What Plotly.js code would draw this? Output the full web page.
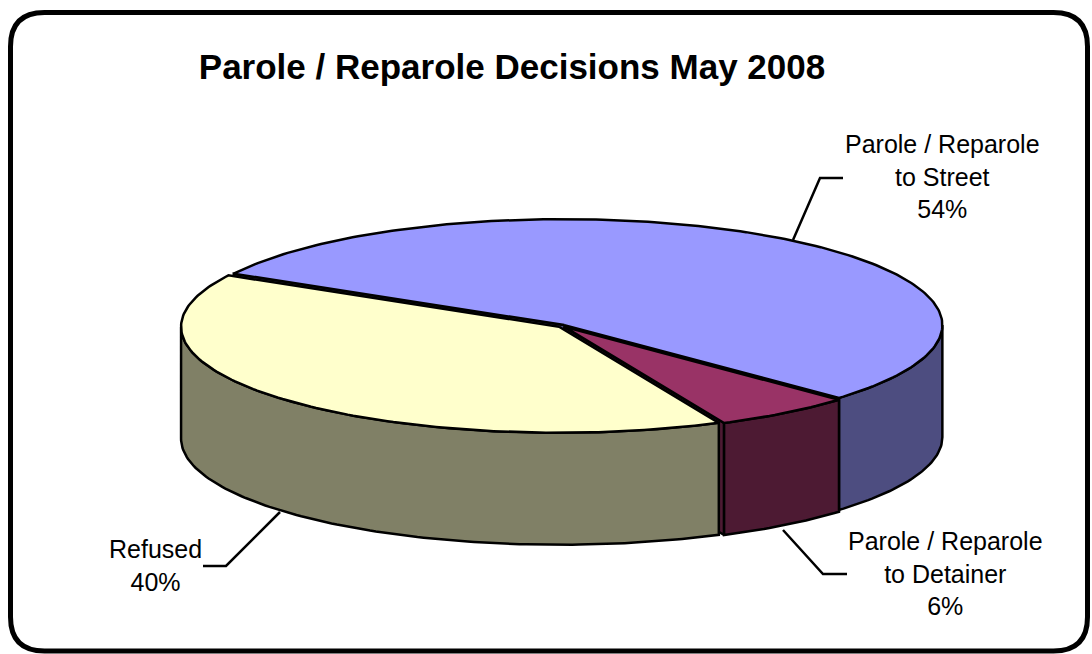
<!DOCTYPE html>
<html>
<head>
<meta charset="utf-8">
<script src="https://cdn.plot.ly/plotly-3.0.1.min.js"></script>
<style>html,body{margin:0;padding:0;background:#fff;}#chart{width:1092px;height:654px;}</style>
</head>
<body>
<div id="chart"></div>
<script>
// ---- data ----
const categories = ["Parole / Reparole to Street", "Parole / Reparole to Detainer", "Refused"];
const labelLines = ["Parole / Reparole<br>to Street", "Parole / Reparole<br>to Detainer", "Refused"];
const percents = [54, 6, 40];
const chartTitle = "Parole / Reparole Decisions May 2008";

// ---- style ----
const topColors = ["#9999FF", "#993366", "#FFFFCC"];
const sideColors = ["#4D4D80", "#4D1A33", "#808066"];
const CX = 562, CY = 326, A = 378, B = 106, DEPTH = 112, START = 151, EXPLODE = 4;
const labelPos = [{x: 942, y: 176}, {x: 945, y: 573}, {x: 155, y: 565}];
const leaders = [
  "M 793 240 L 820 178 L 843 178",
  "M 783 530 L 823 574 L 847 574",
  "M 280 512 L 226 566 L 203 566"
];

const rad = d => d * Math.PI / 180;
function pt(theta, ox, oy, drop) {
  return [CX + ox + A * Math.cos(rad(theta)), CY + oy - B * Math.sin(rad(theta)) + (drop || 0)];
}
function arc(t1, t2, ox, oy, drop) {
  const n = Math.max(2, Math.ceil(Math.abs(t2 - t1)));
  const out = [];
  for (let i = 0; i <= n; i++) out.push(pt(t1 + (t2 - t1) * i / n, ox, oy, drop));
  return out;
}
function poly(points, fill) {
  return {
    type: "scatter", mode: "lines", fill: "toself", fillcolor: fill,
    x: points.map(p => p[0]), y: points.map(p => p[1]),
    line: {color: "#000", width: 2.5}, hoverinfo: "skip", showlegend: false
  };
}

// slice angles (clockwise from START)
const slices = [];
let ang = START;
percents.forEach((p, i) => {
  const span = p / 100 * 360;
  const s = ang - span, e = ang;
  const mid = (s + e) / 2;
  slices.push({s, e, i, ox: EXPLODE * Math.cos(rad(mid)), oy: -EXPLODE * Math.sin(rad(mid)) * B / A});
  ang = s;
});

const faces = [], walls = [], tops = [];
slices.forEach(sl => {
  const {s, e, i, ox, oy} = sl;
  const c0 = [CX + ox, CY + oy], c1 = [CX + ox, CY + oy + DEPTH];
  // cut faces
  [[s, s - 90], [e, e + 90]].forEach(([t, n]) => {
    if (Math.sin(rad(n)) < 0) {
      const r0 = pt(t, ox, oy), r1 = pt(t, ox, oy, DEPTH);
      faces.push(poly([c0, r0, r1, c1, c0], sideColors[i]));
    }
  });
  // curved walls on the front half
  for (let k = -2; k <= 2; k++) {
    const lo = Math.max(s, 180 + 360 * k), hi = Math.min(e, 360 + 360 * k);
    if (lo < hi) {
      const pts = arc(lo, hi, ox, oy, 0).concat(arc(hi, lo, ox, oy, DEPTH));
      pts.push(pts[0]);
      walls.push(poly(pts, sideColors[i]));
    }
  }
  // top
  const tp = [c0].concat(arc(s, e, ox, oy, 0));
  tp.push(c0);
  tops.push(poly(tp, topColors[i]));
});

const annotations = slices.map(sl => ({
  x: labelPos[sl.i].x, y: labelPos[sl.i].y, xref: "x", yref: "y",
  text: labelLines[sl.i] + "<br>" + percents[sl.i] + "%",
  showarrow: false, xanchor: "center", yanchor: "middle", align: "center",
  font: {family: "Arial, 'Liberation Sans', sans-serif", size: 25, color: "#000"}
}));

const r = 34, L = 10.5, T = 12.5, R = 1087.5, Bt = 651;
const border = {
  type: "path", xref: "x", yref: "y",
  path: `M ${L + r} ${T} L ${R - r} ${T} Q ${R} ${T} ${R} ${T + r} L ${R} ${Bt - r} Q ${R} ${Bt} ${R - r} ${Bt} L ${L + r} ${Bt} Q ${L} ${Bt} ${L} ${Bt - r} L ${L} ${T + r} Q ${L} ${T} ${L + r} ${T} Z`,
  line: {color: "#000", width: 5}, fillcolor: "rgba(0,0,0,0)", layer: "above"
};
const leaderShapes = leaders.map(p => ({type: "path", xref: "x", yref: "y", path: p, line: {color: "#000", width: 2.5}}));

const layout = {
  width: 1092, height: 654,
  margin: {l: 0, r: 0, t: 0, b: 0},
  paper_bgcolor: "#fff", plot_bgcolor: "#fff",
  title: {
    text: chartTitle, x: 512 / 1092, xanchor: "center", xref: "paper",
    y: 1 - 67 / 654, yanchor: "middle", yref: "paper",
    font: {family: "Arial, 'Liberation Sans', sans-serif", size: 35, weight: 700, color: "#000"}
  },
  xaxis: {range: [0, 1092], visible: false, fixedrange: true},
  yaxis: {range: [654, 0], visible: false, fixedrange: true},
  shapes: [border].concat(leaderShapes),
  annotations: annotations,
  showlegend: false
};

Plotly.newPlot("chart", faces.concat(walls, tops), layout, {displayModeBar: false, staticPlot: true});
</script>
</body>
</html>
